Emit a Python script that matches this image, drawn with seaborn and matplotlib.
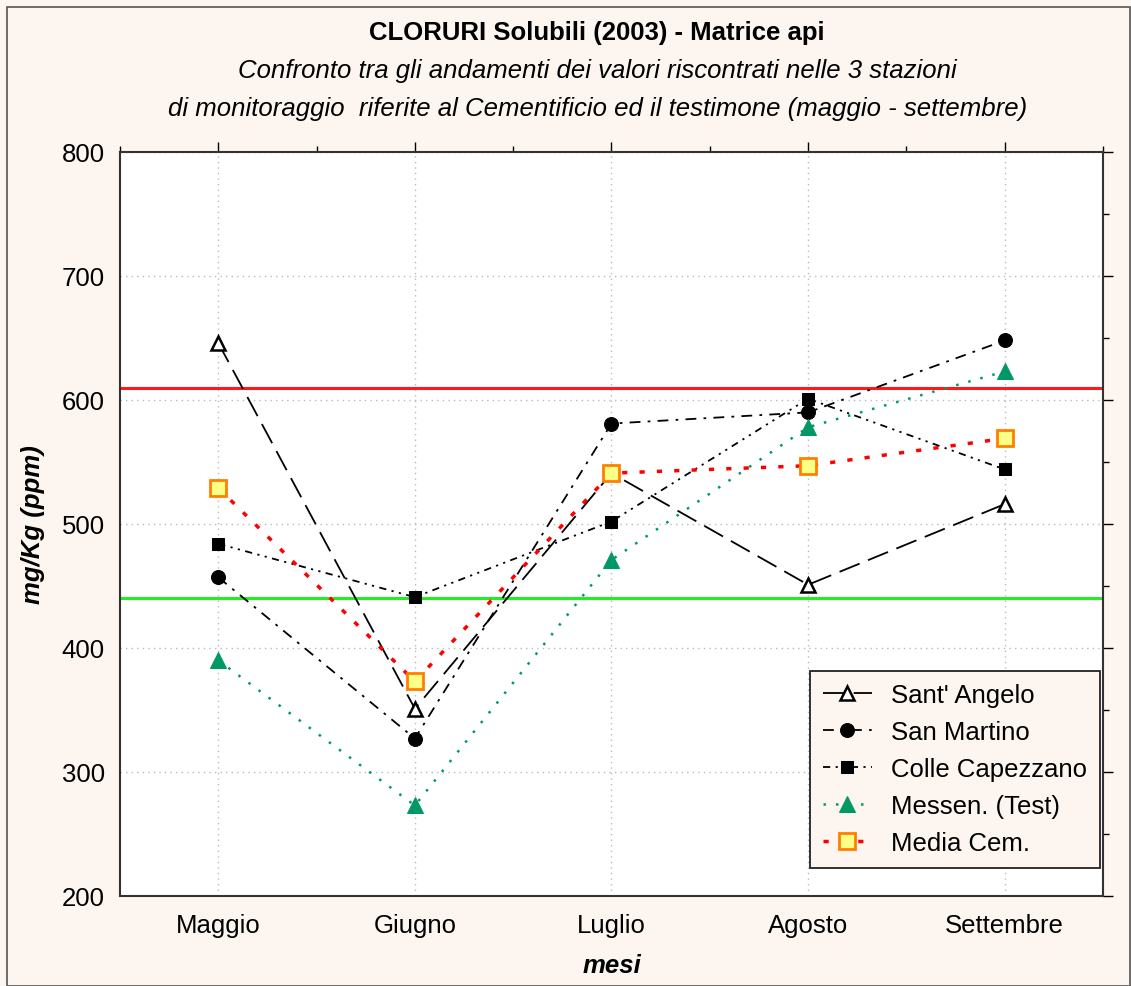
import matplotlib
matplotlib.use("Agg")
import matplotlib.pyplot as plt
from matplotlib.patches import Rectangle
from matplotlib.ticker import MultipleLocator
import seaborn as sns

# dati (mg/Kg)
mesi = ["Maggio", "Giugno", "Luglio", "Agosto", "Settembre"]
sant_angelo = [646, 351, 541, 451, 516]
san_martino = [457, 327, 581, 590, 648]
colle_capezzano = [484, 441, 502, 601, 544]
messen_test = [390, 273, 471, 578, 623]
media_cem = [529, 373, 541, 547, 569]
limite_alto = 610
limite_basso = 440

sns.set_style("white")
plt.rcParams["font.family"] = ["Liberation Sans", "DejaVu Sans"]
plt.rcParams["text.color"] = "black"
plt.rcParams["axes.labelcolor"] = "black"

sfondo = "#FDF6F0"
fs = 18.5
fig = plt.figure(figsize=(11.31, 9.87), dpi=100, facecolor=sfondo)
ax = fig.add_axes([0.1061, 0.0912, 0.9752 - 0.1061, 0.845 - 0.0912])
ax.set_facecolor("white")

x = list(range(len(mesi)))

# linee di riferimento
ax.axhline(limite_alto, color="#FF1A1A", lw=2.2, zorder=1)
ax.axhline(limite_basso, color="#22EE22", lw=2.2, zorder=1)

serie = [
    ("Sant' Angelo", sant_angelo, dict(color="black", ls=(0, (12, 5)), lw=1.3,
                                       marker="^", ms=10, mfc="white", mec="black", mew=1.8)),
    ("San Martino", san_martino, dict(color="black", ls=(0, (6, 4, 1.5, 4)), lw=1.3,
                                      marker="o", ms=10, mfc="black", mec="black")),
    ("Colle Capezzano", colle_capezzano, dict(color="black", ls=(0, (4, 3, 1.2, 3, 1.2, 3)), lw=1.3,
                                              marker="s", ms=8, mfc="black", mec="black")),
    ("Messen. (Test)", messen_test, dict(color="#009966", ls=(0, (1, 4)), lw=1.8,
                                         marker="^", ms=11, mfc="#009966", mec="#009966")),
    ("Media Cem.", media_cem, dict(color="#FF0000", ls=(0, (1.5, 3.5)), lw=2.5,
                                   marker="s", ms=11, mfc="#FFFF88", mec="#FF8000", mew=2)),
]

for nome, valori, stile in serie:
    sns.lineplot(x=x, y=valori, ax=ax, label=nome, sort=False, zorder=3, **stile)

ax.set_xlim(-0.5, 4.5)
ax.set_ylim(200, 800)
ax.set_xticks(x)
ax.set_xticklabels(mesi)
ax.xaxis.set_minor_locator(MultipleLocator(0.5))
ax.yaxis.set_major_locator(MultipleLocator(100))
ax.yaxis.set_minor_locator(MultipleLocator(50))
ax.tick_params(which="both", direction="out", top=True, right=True, labelsize=fs,
               colors="black", width=1)
ax.tick_params(which="major", length=7)
ax.tick_params(which="minor", length=4)
ax.tick_params(axis="x", labeltop=False, pad=5)
ax.tick_params(axis="y", labelright=False, pad=4)
ax.grid(True, which="major", color="#BBBBBB", ls=(0, (1, 3)), lw=1)
for lato in ax.spines.values():
    lato.set_color("#333333")
    lato.set_linewidth(1.5)

ax.set_xlabel("mesi", fontsize=fs, fontweight="bold", fontstyle="italic", labelpad=12)
ax.set_ylabel("mg/Kg (ppm)", fontsize=fs, fontweight="bold", fontstyle="italic", labelpad=12)

xc = 0.528
fig.text(xc, 0.967, "CLORURI Solubili (2003) - Matrice api", ha="center", va="center",
         fontsize=fs, fontweight="bold")
fig.text(xc, 0.928, "Confronto tra gli andamenti dei valori riscontrati nelle 3 stazioni",
         ha="center", va="center", fontsize=fs, fontstyle="italic")
fig.text(xc, 0.890, "di monitoraggio  riferite al Cementificio ed il testimone (maggio - settembre)",
         ha="center", va="center", fontsize=fs, fontstyle="italic")

leg = ax.legend(loc="lower right", bbox_to_anchor=(0.997, 0.038), borderaxespad=0, fontsize=fs,
                frameon=True, fancybox=False, facecolor=sfondo, edgecolor="#222222",
                framealpha=1, handlelength=1.9, borderpad=0.5, labelspacing=0.5,
                handletextpad=0.75)
leg.get_frame().set_linewidth(1.3)

fig.patches.append(Rectangle((7 / 1131, 0.0), 1 - 8 / 1131, 1 - 8 / 987, transform=fig.transFigure,
                             fill=False, edgecolor="#555555", lw=1.2))

fig.savefig("out.png", dpi=100, facecolor=sfondo)
